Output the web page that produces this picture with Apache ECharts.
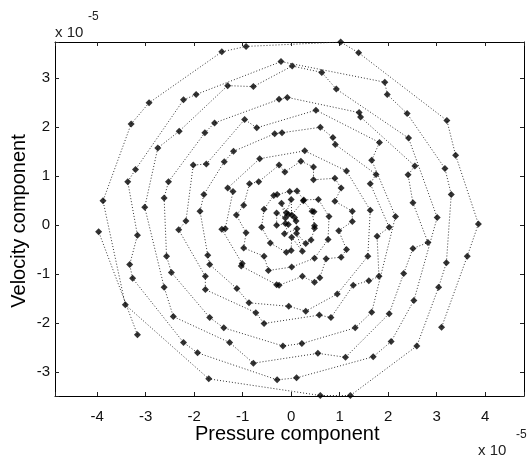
<!DOCTYPE html>
<html>
<head>
<meta charset="utf-8">
<script src="https://cdn.jsdelivr.net/npm/echarts@6/dist/echarts.min.js"></script>
<style>
html,body{margin:0;padding:0;background:#fff;}
#chart{width:527px;height:461px;}
</style>
</head>
<body>
<div id="chart"></div>
<script>
// Values in units of 1e-5
const pressure = [1.02,-0.93,-1.43,1.39,-0.21,0.02,0.63,1.93,-1.31,-0.78,0.93,1.98,-1.96,-2.93,-2.22,-0.25,-0.08,0.51,1.40,1.43,2.39,3.21,-3.30,-0.96,-1.58,-2.31,-1.78,-0.71,0.60,-0.34,-0.19,0.86,0.91,2.42,1.82,-2.75,-1.19,0.28,3.39,-0.65,1.66,-1.38,0.20,-2.02,-1.75,-0.25,0.46,2.55,-3.21,3.17,1.14,-0.13,1.75,2.41,-3.37,-2.53,-0.86,-0.67,0.46,0.90,1.63,-1.31,-1.20,1.03,-1.80,-0.36,-0.29,-0.03,0.12,3.30,-2.62,-3.88,0.00,0.26,0.25,0.56,0.90,2.51,-0.98,-0.20,-3.02,-1.88,-0.56,0.43,0.47,1.63,1.26,-0.30,-0.10,-0.06,0.01,0.07,-0.12,-1.13,0.78,2.15,3.01,-2.17,0.10,-0.12,1.26,3.86,-0.30,-0.06,-0.61,0.48,0.48,-1.43,-1.36,-2.32,-3.97,2.02,0.12,-0.14,0.11,-3.17,-0.93,0.98,0.01,0.41,1.77,0.76,2.82,-0.43,0.30,-0.98,1.14,0.00,2.51,-0.10,0.23,-1.72,-2.57,-0.56,0.48,0.72,1.03,1.58,3.63,-1.01,-1.03,-3.33,-1.68,3.20,0.01,-0.47,-2.47,2.32,0.23,-1.77,1.81,-3.27,0.59,0.48,1.60,-0.30,-0.25,1.28,-2.62,-1.12,-1.77,3.04,0.95,2.53,-0.87,-3.42,-0.05,0.30,1.66,-0.73,2.02,0.58,0.82,-1.68,-2.43,-0.56,-1.39,1.32,3.10,-3.17,-2.22,-1.27,0.22,2.06,-0.17,2.59,-1.93,0.55,1.69,1.12,-0.78,-1.70,-0.29,0.11,0.60,1.22];
const velocity = [3.73,3.64,3.53,3.51,3.33,3.24,3.11,2.91,2.84,2.82,2.77,2.66,2.66,2.49,2.55,2.56,2.60,2.34,2.29,2.20,2.27,2.13,2.06,2.15,2.08,1.91,1.88,1.98,1.99,1.86,1.88,1.78,1.64,1.77,1.68,1.57,1.50,1.51,1.42,1.35,1.32,1.29,1.30,1.22,1.24,1.22,1.18,1.20,1.13,1.15,1.10,1.08,1.03,1.02,0.88,0.88,0.84,0.88,0.92,0.95,0.84,0.75,0.68,0.75,0.62,0.60,0.62,0.68,0.69,0.62,0.55,0.49,0.52,0.51,0.49,0.52,0.48,0.45,0.40,0.44,0.36,0.28,0.32,0.28,0.27,0.30,0.28,0.24,0.25,0.21,0.20,0.15,0.14,0.20,0.17,0.17,0.15,0.08,0.08,0.03,0.07,0.02,-0.01,0.01,-0.05,-0.02,-0.07,-0.09,-0.08,-0.10,-0.14,-0.05,-0.08,-0.18,-0.17,-0.21,-0.16,-0.12,-0.25,-0.31,-0.23,-0.30,-0.36,-0.37,-0.38,-0.47,-0.50,-0.52,-0.48,-0.56,-0.54,-0.62,-0.64,-0.64,-0.68,-0.69,-0.66,-0.64,-0.64,-0.79,-0.84,-0.81,-0.81,-0.77,-0.86,-0.93,-0.97,-0.99,-1.05,-1.05,-1.05,-1.09,-1.08,-1.17,-1.14,-1.22,-1.23,-1.23,-1.27,-1.30,-1.32,-1.27,-1.41,-1.54,-1.59,-1.63,-1.66,-1.76,-1.78,-1.79,-1.81,-1.84,-1.89,-1.89,-1.87,-2.01,-2.10,-2.10,-2.09,-2.24,-2.40,-2.40,-2.42,-2.38,-2.47,-2.47,-2.61,-2.62,-2.69,-2.70,-2.82,-3.14,-3.16,-3.12,-3.48,-3.48];
const xTickLabels = [-4,-3,-2,-1,0,1,2,3,4];
const yTickLabels = [-3,-2,-1,0,1,2,3];
const xLabel = 'Pressure component';
const yLabel = 'Velocity component';
const exponentText = '-5';

// order the read points along the (clockwise, outward) spiral for the dotted trajectory
const cx = -0.03, cy = 0.05, turnGap = 0.39, b = turnGap / (2 * Math.PI);
const idx = pressure.map((_, i) => i);
const tParam = idx.map(i => {
  const dx = pressure[i] - cx, dy = velocity[i] - cy;
  const r = Math.hypot(dx, dy);
  const base = -Math.atan2(dy, dx);
  const k = Math.round((r / b - base) / (2 * Math.PI));
  return base + 2 * Math.PI * k;
});
idx.sort((a, c) => tParam[a] - tParam[c]);
const pathData = [];
idx.forEach((i, n) => {
  if (n > 0) {
    const j = idx[n - 1];
    if (Math.hypot(pressure[i] - pressure[j], velocity[i] - velocity[j]) > 2.4) pathData.push(['-', '-']);
  }
  pathData.push([pressure[i], velocity[i]]);
});
const pointData = pressure.map((p, i) => [p, velocity[i]]);

const FONT = '"Liberation Sans", Arial, Helvetica, sans-serif';
const fmt = v => {
  const r = Math.round(v);
  return Math.abs(v - r) < 1e-6 ? String(r) : '';
};
const xr = [-4.87, 4.80], yr = [-3.49, 3.73];
const baseAxis = {
  type: 'value', splitNumber: 10,
  axisLine: { show: true, onZero: false, lineStyle: { color: '#000', width: 1 } },
  axisTick: { show: true, inside: true, length: 4, lineStyle: { color: '#222' } },
  splitLine: { show: false },
};
const chart = echarts.init(document.getElementById('chart'), null, { renderer: 'canvas' });
chart.setOption({
  animation: false,
  backgroundColor: '#fff',
  grid: { left: 55, right: 1, top: 42, bottom: 65, containLabel: false },
  xAxis: [
    Object.assign({}, baseAxis, { min: xr[0], max: xr[1], position: 'bottom',
      axisLabel: { show: true, margin: 13, color: '#111', fontSize: 15, fontFamily: FONT,
        formatter: v => (xTickLabels.includes(Math.round(v)) ? fmt(v) : ''), showMinLabel: true, showMaxLabel: true } }),
    Object.assign({}, baseAxis, { min: xr[0], max: xr[1], position: 'top', axisLabel: { show: false } })
  ],
  yAxis: [
    Object.assign({}, baseAxis, { min: yr[0], max: yr[1], splitNumber: 8, position: 'left',
      axisLabel: { show: true, margin: 5, color: '#111', fontSize: 15, fontFamily: FONT,
        formatter: v => (yTickLabels.includes(Math.round(v)) ? fmt(v) : '') } }),
    Object.assign({}, baseAxis, { min: yr[0], max: yr[1], splitNumber: 8, position: 'right', axisLabel: { show: false } })
  ],
  series: [
    { type: 'line', data: pathData, xAxisIndex: 0, yAxisIndex: 0, symbol: 'none', smooth: false, connectNulls: false,
      lineStyle: { color: '#333', width: 1, type: [1, 2] }, silent: true, z: 1 },
    { type: 'scatter', data: pointData, xAxisIndex: 0, yAxisIndex: 0, symbol: 'diamond', symbolSize: 7,
      itemStyle: { color: '#000' }, z: 2 }
  ],
  graphic: [
    { type: 'text', left: 195, top: 424, style: { text: xLabel, font: '20px ' + FONT, fill: '#000' } },
    { type: 'text', x: 9, y: 221, rotation: Math.PI / 2,
      style: { text: yLabel, font: '20px ' + FONT, fill: '#000', align: 'center', verticalAlign: 'top' } },
    { type: 'text', x: 55, y: 25, style: { text: 'x 10', font: '15px ' + FONT, fill: '#222' } },
    { type: 'text', x: 88, y: 11, style: { text: exponentText, font: '12px ' + FONT, fill: '#222' } },
    { type: 'text', x: 478, y: 443, style: { text: 'x 10', font: '15px ' + FONT, fill: '#222' } },
    { type: 'text', x: 516, y: 429, style: { text: exponentText, font: '12px ' + FONT, fill: '#222' } }
  ]
});
</script>
</body>
</html>
